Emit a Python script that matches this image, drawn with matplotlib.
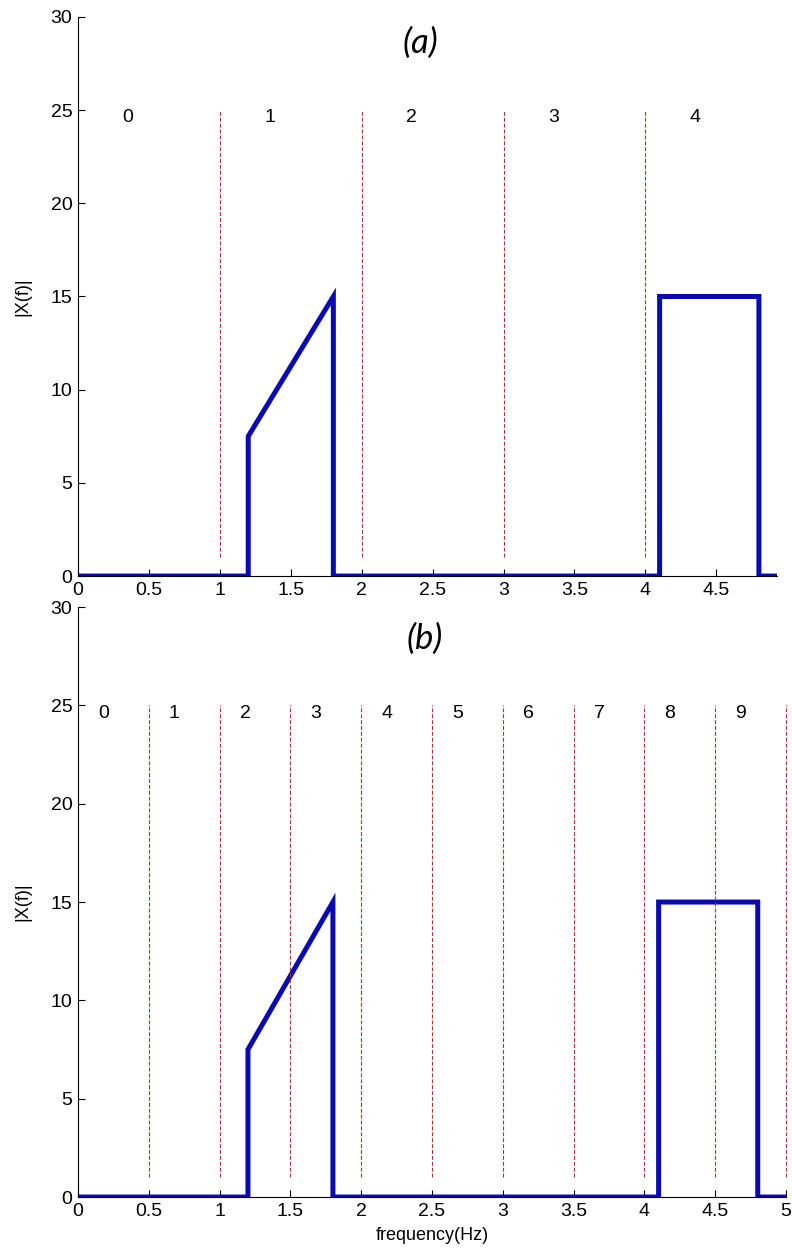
import numpy as np
import matplotlib
matplotlib.use("Agg")
import matplotlib.pyplot as plt
from matplotlib import font_manager

# ---------------------------------------------------------------------------
# Data
# ---------------------------------------------------------------------------
freq = [0, 1.2, 1.2, 1.8, 1.8, 4.1, 4.1, 4.8, 4.8, 5.0]
mag  = [0, 0, 7.5, 15, 0, 0, 15, 15, 0, 0]

bounds_a = [1, 2, 3, 4]
bounds_b = [0.5, 1, 1.5, 2, 2.5, 3, 3.5, 4, 4.5, 5]
zones_a = ["0", "1", "2", "3", "4"]
zones_b = ["0", "1", "2", "3", "4", "5", "6", "7", "8", "9"]

xticks_a = [0, 0.5, 1, 1.5, 2, 2.5, 3, 3.5, 4, 4.5]
xticks_b = [0, 0.5, 1, 1.5, 2, 2.5, 3, 3.5, 4, 4.5, 5]
yticks = [0, 5, 10, 15, 20, 25, 30]

# font: narrow sans if available
names = {f.name for f in font_manager.fontManager.ttflist}
FONT = "Liberation Sans Narrow" if "Liberation Sans Narrow" in names else "Liberation Sans"
plt.rcParams["font.family"] = [FONT, "DejaVu Sans"]

BLUE = "#0a0ab4"
RED = "#a03838"

fig = plt.figure(figsize=(7.92, 12.55), dpi=100)
ax1 = fig.add_axes([0.0985, 0.541, 0.883, 0.4455])
ax2 = fig.add_axes([0.0985, 0.0462, 0.894, 0.4701])


def style(ax, xmax, xticks, title, bounds, zones, step, ty):
    ax.plot(freq, mag, color=BLUE, linewidth=3.6, solid_joinstyle="miter", clip_on=True)
    for b in bounds:
        ax.plot([b, b], [1, 25], color=RED, linestyle=(0, (3.5, 1.8)), linewidth=0.8,
                clip_on=False)
    for i, z in enumerate(zones):
        ax.text(i * step + (0.35 if step == 1 else 0.18), 24.6, z,
                ha="center", va="center", fontsize=14)
    ax.set_xlim(0, xmax)
    ax.set_ylim(0, 30)
    ax.set_xticks(xticks)
    ax.set_xticklabels([f"{t:g}" for t in xticks])
    ax.set_yticks(yticks)
    ax.spines["top"].set_visible(False)
    ax.spines["right"].set_visible(False)
    ax.tick_params(direction="in", length=5, labelsize=14, pad=4)
    ax.set_ylabel("|X(f)|", fontsize=13, labelpad=14)
    ax.set_title(title, fontsize=25, style="italic", family=["Lato", "DejaVu Sans"],
                 y=ty, x=0.49)


style(ax1, 4.93, xticks_a, "(a)", bounds_a, zones_a, 1, 0.92)
style(ax2, 5.0, xticks_b, "(b)", bounds_b, zones_b, 0.5, 0.915)
ax2.set_xlabel("frequency(Hz)", fontsize=13, labelpad=5)

fig.savefig("out.png", dpi=100)
